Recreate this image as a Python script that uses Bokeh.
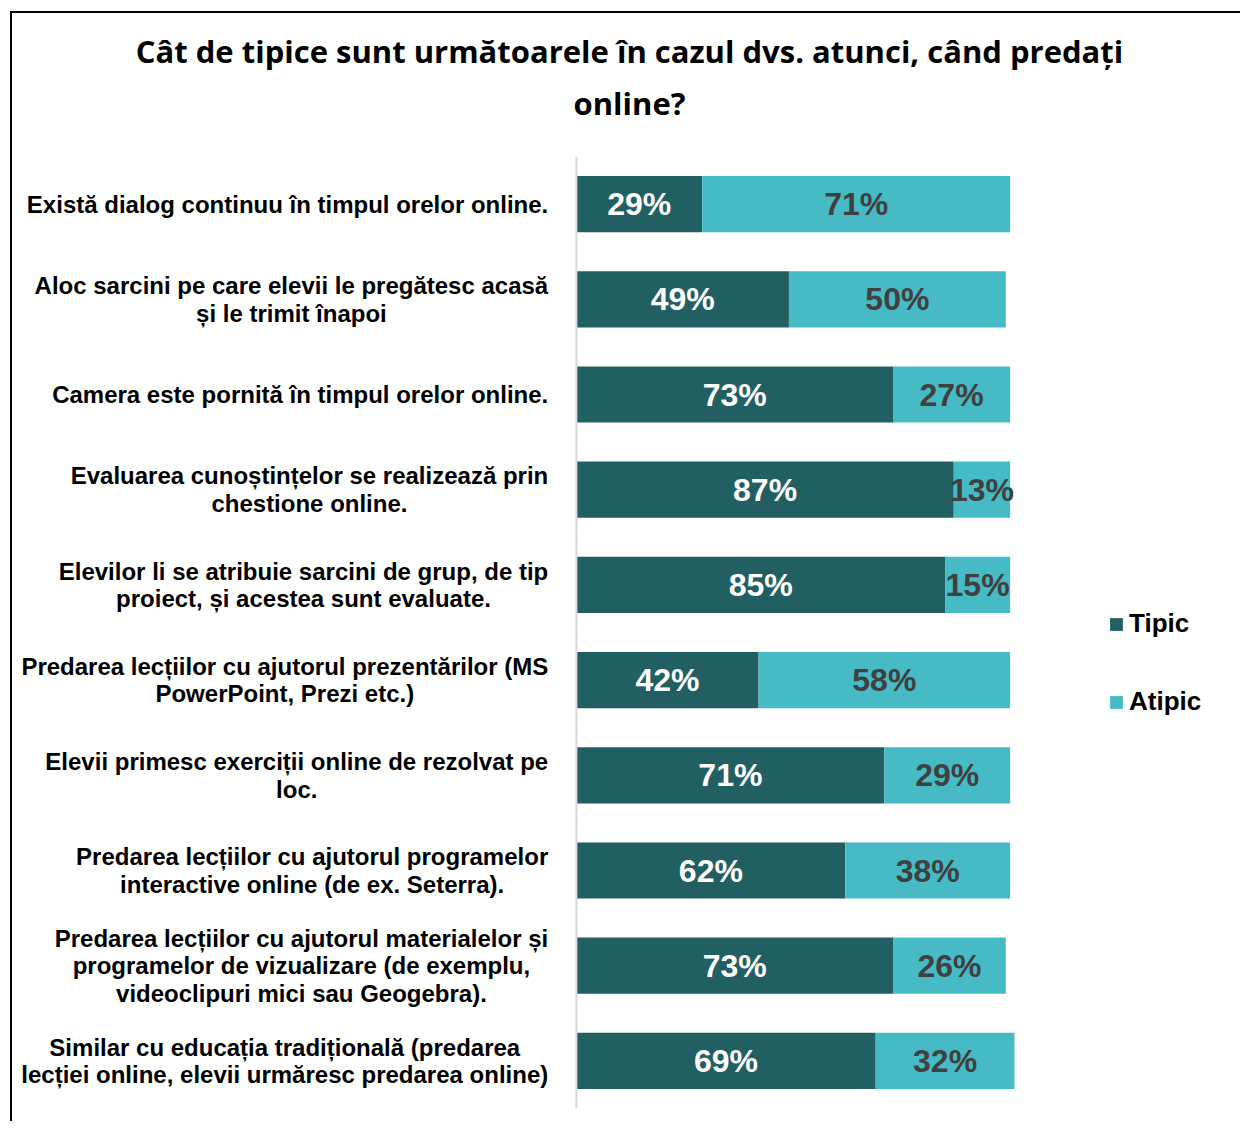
from bokeh.plotting import figure
from bokeh.models import ColumnDataSource, FactorRange, Range1d, Span, Legend, LegendItem, Title
from bokeh.core.properties import value
from bokeh.embed import file_html
from bokeh.resources import INLINE

title_lines = ["Cât de tipice sunt următoarele în cazul dvs. atunci, când predați", "online?"]
categories = [
    "Există dialog continuu în timpul orelor online.",
    "Aloc sarcini pe care elevii le pregătesc acasă\nși le trimit înapoi",
    "Camera este pornită în timpul orelor online.",
    "Evaluarea cunoștințelor se realizează prin\nchestione online.",
    "Elevilor li se atribuie sarcini de grup, de tip\nproiect, și acestea sunt evaluate.",
    "Predarea lecțiilor cu ajutorul prezentărilor (MS\nPowerPoint, Prezi etc.)",
    "Elevii primesc exerciții online de rezolvat pe\nloc.",
    "Predarea lecțiilor cu ajutorul programelor\ninteractive online (de ex. Seterra).",
    "Predarea lecțiilor cu ajutorul materialelor și\nprogramelor de vizualizare (de exemplu,\nvideoclipuri mici sau Geogebra).",
    "Similar cu educația tradițională (predarea\nlecției online, elevii urmăresc predarea online)",
]
tipic = [29, 49, 73, 87, 85, 42, 71, 62, 73, 69]
atipic = [71, 50, 27, 13, 15, 58, 29, 38, 26, 32]
series_names = ["Tipic", "Atipic"]
colors = ["#215F63", "#46BBC6"]
label_colors = ["#FFFFFF", "#404040"]

# layout constants (pixels)
W, H = 1230, 1110
PX = 4.33            # pixels per percentage point
CANVAS_X0 = 14       # page x of canvas left
ZERO_X = 577         # page x of value 0
FRAME_LEFT = 18
MB_LEFT = FRAME_LEFT - CANVAS_X0
x_start = (FRAME_LEFT - ZERO_X) / PX
x_end = x_start + (W - 2 - MB_LEFT) / PX

keys = [c.replace("\n", " ") for c in categories]
src = ColumnDataSource(dict(
    key=keys,
    text=categories,
    tipic=tipic,
    atipic=atipic,
    t_end=[a + b for a, b in zip(tipic, atipic)],
    t_mid=[a / 2 for a in tipic],
    a_mid=[a + b / 2 for a, b in zip(tipic, atipic)],
    t_lab=[f"{v}%" for v in tipic],
    a_lab=[f"{v}%" for v in atipic],
    zero=[0] * len(tipic),
    lab_x=[-6.5] * len(tipic),
))

p = figure(
    width=W, height=H,
    y_range=FactorRange(factors=list(reversed(keys)), range_padding=0),
    x_range=Range1d(x_start, x_end),
    output_backend="svg", toolbar_location=None,
    min_border_left=MB_LEFT, min_border_right=0,
    min_border_top=143, min_border_bottom=15,
)
p.margin = (11, 0, 0, 10)
p.styles = {"border-left": "2px solid #000", "border-top": "2px solid #000"}
p.xaxis.visible = False
p.yaxis.visible = False
p.grid.visible = False
p.outline_line_color = None
p.background_fill_color = "white"

p.add_layout(Span(location=0, dimension="height", line_color="#D9D9D9", line_width=2))

r1 = p.hbar(y="key", left="zero", right="tipic", height=0.59, fill_color=colors[0], line_color=None, source=src)
r2 = p.hbar(y="key", left="tipic", right="t_end", height=0.59, fill_color=colors[1], line_color=None, source=src)

p.text(x="t_mid", y="key", text="t_lab", source=src, text_align="center", text_baseline="middle",
       text_font=value("Liberation Sans"), text_font_style="bold", text_font_size="32px",
       text_color=label_colors[0])
p.text(x="a_mid", y="key", text="a_lab", source=src, text_align="center", text_baseline="middle",
       text_font=value("Liberation Sans"), text_font_style="bold", text_font_size="32px",
       text_color=label_colors[1])

p.text(x="lab_x", y="key", text="text", source=src, anchor="center_right", text_align="center",
       text_baseline="middle", text_font=value("Liberation Sans"), text_font_style="bold",
       text_font_size="24px", text_color="#000000", text_line_height=1.02)

legend = Legend(items=[LegendItem(label=series_names[0], renderers=[r1]),
                       LegendItem(label=series_names[1], renderers=[r2])],
                location=(1092, 391), orientation="vertical",
                glyph_width=16, glyph_height=16, label_standoff=5, spacing=47,
                padding=0, margin=0, border_line_color=None, background_fill_alpha=0,
                label_text_font="Liberation Sans", label_text_font_style="bold",
                label_text_font_size="26px", label_text_color="#000000")
p.add_layout(legend)

spacer = Title(text=" ", align="center", text_font="Open Sans", text_font_size="10px",
               text_color="#FFFFFF")
t2 = Title(text=title_lines[1], align="center", vertical_align="top", text_font="Open Sans",
           text_font_style="bold", text_font_size="31px", text_color="#000000")
t1 = Title(text=title_lines[0], align="center", vertical_align="bottom", text_font="Open Sans",
           text_font_style="bold", text_font_size="31px", text_color="#000000")
p.add_layout(spacer, "above")
p.add_layout(t2, "above")
p.add_layout(t1, "above")

open("out.html", "w").write(file_html(p, INLINE))
